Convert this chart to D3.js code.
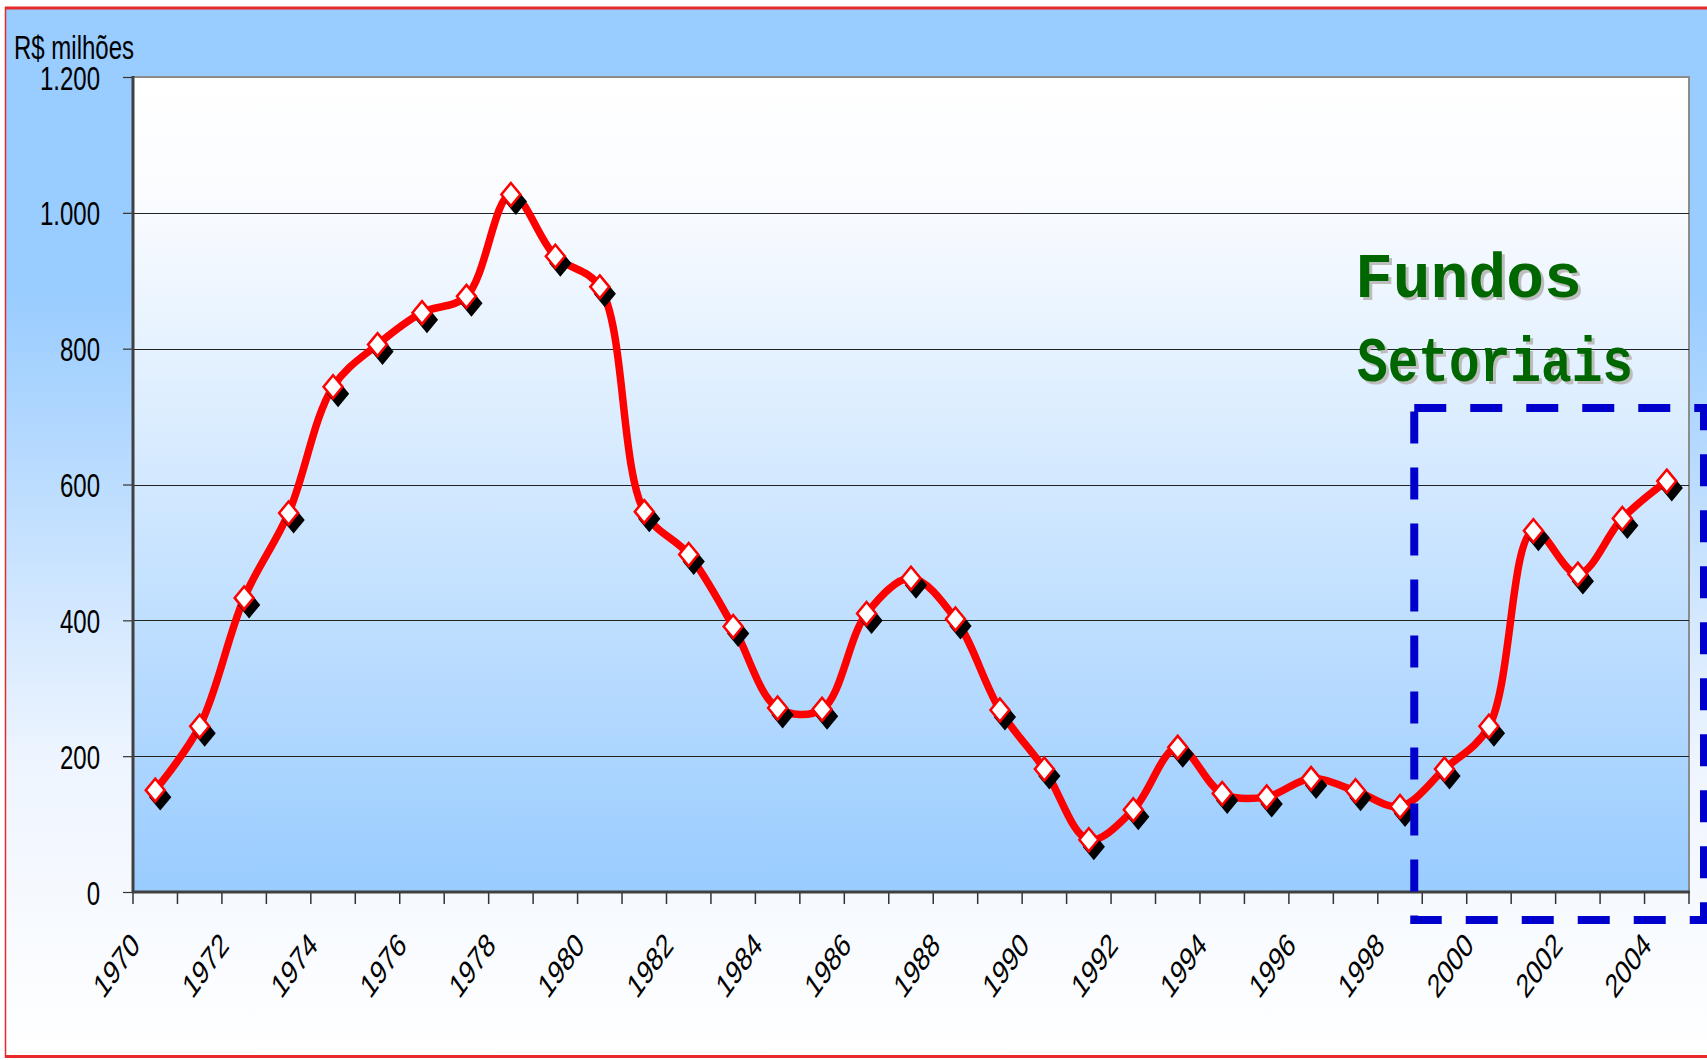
<!DOCTYPE html>
<html><head><meta charset="utf-8">
<script src="https://cdn.jsdelivr.net/npm/d3@7"></script>
<style>body{margin:0;background:#fff}svg{display:block}</style>
</head><body>
<script>
// ---- data ----
const years = [1970,1971,1972,1973,1974,1975,1976,1977,1978,1979,1980,1981,1982,1983,1984,1985,1986,1987,1988,1989,1990,1991,1992,1993,1994,1995,1996,1997,1998,1999,2000,2001,2002,2003,2004];
const values = [150,244,433,558,744,806,853,877,1027,936,891,560,497,391,271,269,410,462,402,268,181,77,121,213,145,140,167,149,126,181,244,532,468,550,605];
const yTicks = [0,200,400,600,800,1000,1200];
const xLabelYears = [1970,1972,1974,1976,1978,1980,1982,1984,1986,1988,1990,1992,1994,1996,1998,2000,2002,2004];
const yTitle = "R$ milhões";
const noteLines = ["Fundos","Setoriais"];
const boxYears = [1999,2004];   // highlighted period (Fundos Setoriais)

// ---- layout ----
const W = 1707, H = 1060;
const P = {l:133, t:77, r:1689, b:892};
const SY = 1.4;   // vertical stretch of the text
const svg = d3.select("body").append("svg").attr("width",W).attr("height",H);
const defs = svg.append("defs");

const og = defs.append("linearGradient").attr("id","outerG").attr("x1",0).attr("y1",0).attr("x2",0).attr("y2",1);
[[0,"#99CCFF"],[0.27,"#99CCFF"],[0.72,"#EEF5FF"],[1,"#FFFFFF"]].forEach(s=>og.append("stop").attr("offset",s[0]).attr("stop-color",s[1]));
const pg = defs.append("linearGradient").attr("id","plotG").attr("x1",0).attr("y1",0).attr("x2",0).attr("y2",1);
[[0,"#FFFFFF"],[0.15,"#FAFCFF"],[1,"#99CCFF"]].forEach(s=>pg.append("stop").attr("offset",s[0]).attr("stop-color",s[1]));

// outer background + red border
svg.append("rect").attr("x",6).attr("y",9).attr("width",W-6).attr("height",1047).attr("fill","url(#outerG)");
svg.append("line").attr("x1",5).attr("x2",W).attr("y1",8).attr("y2",8).attr("stroke","#E82A2A").attr("stroke-width",3);
svg.append("line").attr("x1",5.5).attr("x2",5.5).attr("y1",7).attr("y2",1058).attr("stroke","#E82A2A").attr("stroke-width",1.5);
svg.append("line").attr("x1",5).attr("x2",W).attr("y1",1056.5).attr("y2",1056.5).attr("stroke","#E82A2A").attr("stroke-width",3);

// scales
const x = d3.scaleBand().domain(years).range([P.l,P.r]);
const bw = x.bandwidth();
const cx = d => x(d) + bw/2;
const y = d3.scaleLinear().domain([0,1200]).range([P.b,P.t]);

// plot area
svg.append("rect").attr("x",P.l).attr("y",P.t).attr("width",P.r-P.l).attr("height",P.b-P.t)
  .attr("fill","url(#plotG)").attr("stroke","#8C8C8C").attr("stroke-width",2);

// gridlines
svg.append("g").selectAll("line").data(yTicks.filter(d=>d>0 && d<1200)).join("line")
  .attr("x1",P.l).attr("x2",P.r).attr("y1",d=>Math.round(y(d))+0.5).attr("y2",d=>Math.round(y(d))+0.5)
  .attr("stroke","#222").attr("stroke-width",1);

const FONT = "'Liberation Sans', Arial, sans-serif";
const FS = 24;
const fmt = d3.formatLocale({decimal:",", thousands:".", grouping:[3], currency:["R$",""]}).format(",d");

// y axis
const ya = svg.append("g").attr("transform",`translate(${P.l},0)`)
  .call(d3.axisLeft(y).tickValues(yTicks).tickSize(10).tickFormat(fmt));
ya.select(".domain").remove();
ya.selectAll(".tick line").attr("stroke","#333").attr("stroke-width",1.2);
ya.selectAll(".tick text").attr("x",-33).attr("y",0).attr("dy",null)
  .attr("transform",`translate(0,${(FS*0.716*SY/2).toFixed(1)}) scale(1,${SY})`)
  .attr("font-family",FONT).attr("font-size",FS).attr("fill","#000").attr("text-anchor","end");

// y title
svg.append("text").attr("x",14).attr("y",0).attr("transform",`translate(0,59) scale(1,${SY})`)
  .attr("font-family",FONT).attr("font-size",FS).attr("fill","#000").text(yTitle);

// x axis ticks (category boundaries)
const bounds = years.map(d=>x(d)).concat([P.r]);
svg.append("g").selectAll("line").data(bounds).join("line")
  .attr("x1",d=>d).attr("x2",d=>d).attr("y1",P.b).attr("y2",P.b+12)
  .attr("stroke","#333").attr("stroke-width",1.5);
// axis lines
svg.append("line").attr("x1",P.l).attr("x2",P.l).attr("y1",P.t-1).attr("y2",P.b+1).attr("stroke","#404040").attr("stroke-width",3);
svg.append("line").attr("x1",P.l-1).attr("x2",P.r+1).attr("y1",P.b).attr("y2",P.b).attr("stroke","#404040").attr("stroke-width",3);

// x labels
svg.append("g").selectAll("text").data(xLabelYears).join("text")
  .attr("transform",d=>`translate(${cx(d)-14},947) scale(1,${SY}) rotate(-45)`)
  .attr("text-anchor","end").attr("font-family",FONT).attr("font-size",FS).attr("fill","#000")
  .text(d=>d);

// series
const data = years.map((yr,i)=>({yr, v:values[i]}));
const line = d3.line().x(d=>cx(d.yr)).y(d=>y(d.v)).curve(d3.curveCatmullRom.alpha(0.5));
svg.append("path").datum(data).attr("d",line).attr("fill","none")
  .attr("stroke","#FF0000").attr("stroke-width",7.5).attr("stroke-linejoin","round");

const hw = 9.5, hh = 11.5;
const diamond = `M0,${-hh}L${hw},0L0,${hh}L${-hw},0Z`;
svg.append("g").selectAll("path").data(data).join("path")
  .attr("d",diamond).attr("transform",d=>`translate(${cx(d.yr)+5},${y(d.v)+7})`)
  .attr("fill","#000").attr("stroke","#000").attr("stroke-width",2.5);
svg.append("g").selectAll("path").data(data).join("path")
  .attr("d",diamond).attr("transform",d=>`translate(${cx(d.yr)},${y(d.v)})`)
  .attr("fill","#FFF").attr("stroke","#FF0000").attr("stroke-width",2.5);

// highlight box
const bx0 = x(boxYears[0]) - 8, bx1 = 1704;
svg.append("rect").attr("x",bx0).attr("y",408).attr("width",bx1-bx0).attr("height",512)
  .attr("fill","none").attr("stroke","#0000CC").attr("stroke-width",8).attr("stroke-dasharray","32 24");

// note text
const note = svg.append("g").attr("font-family","'Liberation Mono','Courier New',monospace")
  .attr("font-weight","bold").attr("font-size",63);
[[0,1355,297,null],[1,1357,381,276]].forEach(([i,tx,ty,len])=>{
  [["#BDBDBD",3],["#006600",0]].forEach(([c,o])=>{
    const t = note.append("text").attr("x",tx+o).attr("y",ty+o).attr("fill",c).text(noteLines[i]);
    if (len) t.attr("textLength",len).attr("lengthAdjust","spacingAndGlyphs");
  });
});
</script>
</body></html>
